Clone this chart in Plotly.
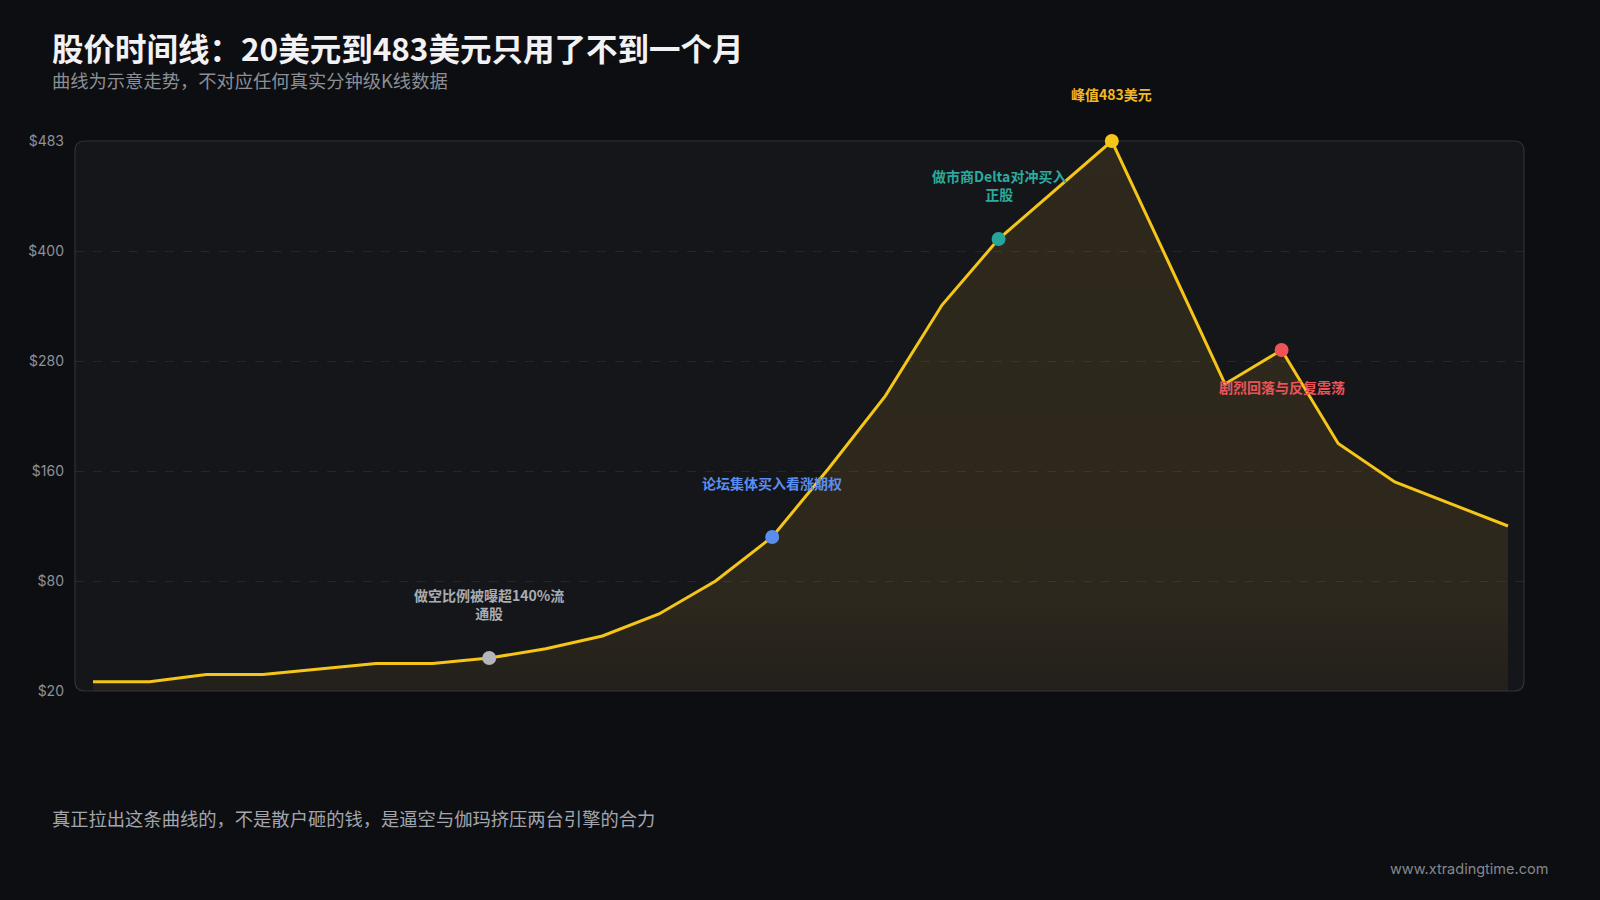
import numpy as np
import plotly.graph_objects as go

# ---------------- data ----------------
tick_prices = [20, 80, 160, 280, 400, 483]
tick_labels = ["$20", "$80", "$160", "$280", "$400", "$483"]

steps = list(range(26))
prices = [25, 25, 29, 29, 32, 35, 35, 38, 43, 50, 62, 80, 112, 163, 242,
          341, 409, 446, 483, 388, 255, 292, 190, 152, 136, 120]

event_idx = [7, 12, 16, 18, 21]
event_text = ["做空比例被曝超140%流<br>通股", "论坛集体买入看涨期权",
              "做市商Delta对冲买入<br>正股", "峰值483美元", "剧烈回落与反复震荡"]
event_colors = ["#b4b6bc", "#5b8def", "#26a69a", "#f5c518", "#ef5359"]
event_text_colors = ["#a9acb2", "#5b8def", "#2bab9c", "#f2b824", "#e8545a"]
event_shift = [54, 54, 54, 47, -37]

title = "股价时间线：20美元到483美元只用了不到一个月"
subtitle = "曲线为示意走势，不对应任何真实分钟级K线数据"
footer = "真正拉出这条曲线的，不是散户砸的钱，是逼空与伽玛挤压两台引擎的合力"
watermark = "www.xtradingtime.com"

# ---------------- layout constants ----------------
W, H = 1600, 900
L, R, T, B = 75, 76, 141, 209
PW, PH = W - L - R, H - T - B
FONT = "Noto Sans CJK SC, Inter, sans-serif"
BG = "#0d0e12"

# the chart's value axis is evenly spaced between its labelled prices
tick_pos = list(range(len(tick_prices)))
ypos = np.interp(prices, tick_prices, tick_pos)


def px(x):
    return (x - L) / PW


def py(y):
    return (H - B - y) / PH


fig = go.Figure()

fig.add_trace(go.Scatter(
    x=steps, y=ypos, mode="lines",
    line=dict(color="#f5c518", width=3),
    fill="tozeroy",
    fillgradient=dict(type="vertical", start=0, stop=5,
                      colorscale=[[0, "rgba(225,165,45,0.07)"],
                                  [0.15, "rgba(225,165,45,0.12)"],
                                  [1, "rgba(225,165,45,0.13)"]]),
    hoverinfo="skip", showlegend=False, cliponaxis=False,
))

for i, idx in enumerate(event_idx):
    fig.add_trace(go.Scatter(
        x=[steps[idx]], y=[ypos[idx]], mode="markers",
        marker=dict(color=event_colors[i], size=14, line=dict(width=0)),
        showlegend=False, hoverinfo="skip", cliponaxis=False,
    ))
    fig.add_annotation(
        x=steps[idx], y=ypos[idx], xref="x", yref="y",
        text=event_text[i], showarrow=False, yshift=event_shift[i],
        font=dict(family=FONT, size=14, color=event_text_colors[i], weight=600),
        align="center", xanchor="center", yanchor="middle",
    )

# rounded plot frame
rx, ry = 10 / PW, 10 / PH
path = (f"M {rx},0 L {1-rx},0 Q 1,0 1,{ry} L 1,{1-ry} Q 1,1 {1-rx},1 "
        f"L {rx},1 Q 0,1 0,{1-ry} L 0,{ry} Q 0,0 {rx},0 Z")
fig.add_shape(type="path", path=path, xref="paper", yref="paper",
              fillcolor="#14161a", line=dict(color="#2e3137", width=1.2),
              layer="below")

# texts
fig.add_annotation(x=px(50), y=py(47), xref="paper", yref="paper",
                   text=title, showarrow=False, xanchor="left", yanchor="middle",
                   font=dict(family=FONT, size=31.5, color="#f2f2f4", weight=700))
fig.add_annotation(x=px(50), y=py(80), xref="paper", yref="paper",
                   text=subtitle, showarrow=False, xanchor="left", yanchor="middle",
                   font=dict(family=FONT, size=18.3, color="#8b8e95"))
fig.add_annotation(x=px(50), y=py(818), xref="paper", yref="paper",
                   text=footer, showarrow=False, xanchor="left", yanchor="middle",
                   font=dict(family=FONT, size=18.3, color="#a3a6ac"))
fig.add_annotation(x=px(1550), y=py(869), xref="paper", yref="paper",
                   text=watermark, showarrow=False, xanchor="right", yanchor="middle",
                   font=dict(family="Inter, sans-serif", size=14.5, color="#85888e"))

fig.update_layout(
    width=W, height=H,
    margin=dict(l=L, r=R, t=T, b=B),
    paper_bgcolor=BG,
    plot_bgcolor="rgba(0,0,0,0)",
    font=dict(family=FONT),
    xaxis=dict(range=[-0.318, 25.283], visible=False, showgrid=False, zeroline=False),
    yaxis=dict(range=[0, 5], tickvals=tick_pos, ticktext=tick_labels,
               showgrid=True, gridcolor="rgba(255,255,255,0.07)", griddash="dash",
               gridwidth=1, zeroline=False, showline=False, ticks="",
               ticklabelstandoff=10,
               tickfont=dict(family="Inter, sans-serif", size=14, color="#8e9197")),
)

fig.write_html(
    "out.html",
    config={"displayModeBar": False},
    post_script=f"document.body.style.margin='0';document.body.style.background='{BG}';",
)
